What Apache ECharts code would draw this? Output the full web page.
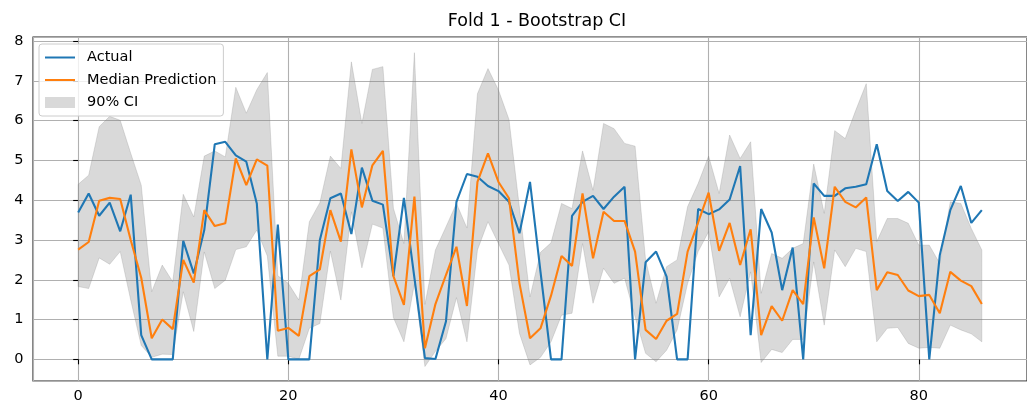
<!DOCTYPE html>
<html>
<head>
<meta charset="utf-8">
<script src="https://cdn.jsdelivr.net/npm/echarts@6/dist/echarts.min.js"></script>
<style>
  html, body { margin: 0; padding: 0; background: #fff; }
  #chart { width: 1027px; height: 405px; }
</style>
</head>
<body>
<div id="chart"></div>
<script>
// Observed target values, one per time step
const actual = [
  3.69, 4.17, 3.61, 3.94, 3.22, 4.14, 0.61, 0.00, 0.00, 0.00,
  2.98, 2.16, 3.25, 5.41, 5.47, 5.13, 4.97, 3.92, 0.00, 3.39,
  0.00, 0.00, 0.00, 3.00, 4.05, 4.17, 3.15, 4.82, 3.99, 3.89,
  2.09, 4.06, 2.05, 0.03, 0.01, 0.95, 3.96, 4.66, 4.59, 4.36,
  4.23, 3.96, 3.17, 4.46, 2.20, 0.00, 0.00, 3.61, 3.96, 4.11,
  3.78, 4.09, 4.34, 0.00, 2.44, 2.71, 2.08, 0.00, 0.00, 3.78,
  3.65, 3.77, 4.02, 4.86, 0.61, 3.78, 3.19, 1.74, 2.81, 0.00,
  4.42, 4.11, 4.11, 4.30, 4.34, 4.40, 5.41, 4.23, 3.98, 4.21,
  3.94, 0.00, 2.62, 3.75, 4.36, 3.43, 3.75
];

// Median of the bootstrap predictions
const median = [
  2.76, 2.95, 3.99, 4.06, 4.03, 3.00, 2.05, 0.53, 1.00, 0.76,
  2.50, 1.93, 3.75, 3.35, 3.42, 5.05, 4.38, 5.03, 4.87, 0.72,
  0.79, 0.59, 2.09, 2.26, 3.75, 2.96, 5.28, 3.82, 4.88, 5.24,
  2.09, 1.37, 4.09, 0.28, 1.39, 2.12, 2.83, 1.34, 4.46, 5.18,
  4.46, 4.05, 1.91, 0.53, 0.78, 1.60, 2.60, 2.35, 4.17, 2.54,
  3.71, 3.48, 3.48, 2.71, 0.74, 0.51, 0.97, 1.14, 2.71, 3.44,
  4.19, 2.73, 3.43, 2.37, 3.27, 0.61, 1.34, 0.97, 1.74, 1.39,
  3.57, 2.29, 4.34, 3.96, 3.82, 4.07, 1.74, 2.19, 2.12, 1.73,
  1.59, 1.62, 1.16, 2.20, 1.98, 1.84, 1.39
];

// 5th percentile of the bootstrap predictions
const ciLower = [
  1.83, 1.78, 2.55, 2.39, 2.71, 1.49, 0.35, 0.05, 0.13, 0.12,
  1.70, 0.70, 2.70, 1.78, 1.99, 2.76, 2.83, 3.25, 2.60, 0.08,
  0.08, 0.00, 0.78, 0.90, 2.72, 1.49, 3.71, 2.30, 3.40, 3.30,
  1.05, 0.44, 1.90, -0.18, 0.20, 0.52, 1.55, 0.44, 2.75, 3.46,
  2.91, 2.37, 0.65, -0.14, 0.05, 0.44, 1.11, 1.16, 2.91, 1.41,
  2.29, 1.91, 2.04, 1.07, 0.15, -0.06, 0.23, 0.74, 1.91, 2.71,
  3.21, 1.57, 2.04, 1.07, 2.20, -0.08, 0.25, 0.17, 0.50, 0.50,
  2.45, 0.86, 2.75, 2.33, 2.79, 2.71, 0.44, 0.78, 0.80, 0.40,
  0.28, 0.30, 0.28, 0.86, 0.74, 0.64, 0.44
];

// 95th percentile of the bootstrap predictions
const ciUpper = [
  4.40, 4.63, 5.85, 6.11, 6.01, 5.18, 4.38, 1.70, 2.37, 1.95,
  4.15, 3.58, 5.11, 5.24, 5.09, 6.84, 6.19, 6.78, 7.21, 2.10,
  1.91, 1.49, 3.46, 3.94, 5.11, 4.80, 7.48, 5.93, 7.29, 7.36,
  3.80, 2.91, 7.71, 1.38, 2.75, 3.33, 3.92, 3.30, 6.68, 7.31,
  6.77, 6.03, 3.80, 1.57, 2.69, 2.93, 3.92, 3.79, 5.24, 4.25,
  5.93, 5.80, 5.43, 5.36, 2.50, 1.41, 2.33, 2.50, 3.84, 4.42,
  5.11, 4.17, 5.64, 5.05, 5.47, 1.66, 2.66, 2.54, 2.79, 2.91,
  4.91, 3.67, 5.75, 5.55, 6.26, 6.93, 2.96, 3.54, 3.54, 3.42,
  2.87, 2.87, 2.41, 3.96, 3.92, 3.29, 2.75
];

const labels = ['Actual', 'Median Prediction', '90% CI'];
const titleText = 'Fold 1 - Bootstrap CI';

const FONT = 'DejaVu Sans';
const BAND_FILL = 'rgba(128,128,128,0.3)';
const LINE_W = 2.1;
const pairs = arr => arr.map((v, i) => [i, v]);
const bandRows = ciLower.map((lo, i) => [i, lo, ciUpper[i]]);

// Whole confidence band as one polygon: upper edge forward, lower edge back
function renderBand(params, api) {
  if (params.dataIndex !== 0) return null;
  const pts = [];
  for (let i = 0; i < ciUpper.length; i++) pts.push(api.coord([i, ciUpper[i]]));
  for (let i = ciLower.length - 1; i >= 0; i--) pts.push(api.coord([i, ciLower[i]]));
  return {
    type: 'polygon',
    shape: { points: pts },
    style: { fill: BAND_FILL, stroke: BAND_FILL, lineWidth: 0.8 }
  };
}

const chart = echarts.init(document.getElementById('chart'), null, { renderer: 'canvas' });

chart.setOption({
  animation: false,
  backgroundColor: '#ffffff',
  title: {
    text: titleText,
    left: 537,
    top: 12,
    padding: 0,
    textAlign: 'center',
    textStyle: { fontFamily: FONT, fontSize: 17.5, fontWeight: 'normal', color: '#000' }
  },
  grid: {
    left: 33, top: 37, right: -15, bottom: 24,
    show: true, borderColor: '#222', borderWidth: 1.1, backgroundColor: 'transparent'
  },
  legend: {
    orient: 'vertical',
    left: 39, top: 44,
    padding: [6, 7, 6, 5],
    itemWidth: 30, itemHeight: 11, itemGap: 7.5,
    backgroundColor: 'rgba(255,255,255,0.8)',
    borderColor: '#cccccc', borderWidth: 1, borderRadius: 3,
    textStyle: { fontFamily: FONT, fontSize: 14.5, color: '#000', padding: [0, 0, 0, 7] },
    data: [
      { name: labels[0] },
      { name: labels[1] },
      { name: labels[2], icon: 'rect', itemStyle: { color: BAND_FILL, opacity: 1 } }
    ]
  },
  xAxis: {
    type: 'value',
    min: -4.3, max: 90.3,
    minInterval: 20, maxInterval: 20,
    axisLine: { show: false },
    axisTick: { show: true, length: 5, lineStyle: { color: '#000', width: 1.1 } },
    axisLabel: {
      fontFamily: FONT, fontSize: 14.5, color: '#000', margin: 8,
      showMinLabel: false, showMaxLabel: false
    },
    splitLine: { show: true, lineStyle: { color: '#b0b0b0', width: 1.1 } }
  },
  yAxis: {
    type: 'value',
    min: -0.545, max: 8.105,
    minInterval: 1, maxInterval: 1,
    axisLine: { show: false },
    axisTick: { show: true, length: 5, lineStyle: { color: '#000', width: 1.1 } },
    axisLabel: {
      fontFamily: FONT, fontSize: 14.5, color: '#000', margin: 9.5,
      showMinLabel: false, showMaxLabel: false
    },
    splitLine: { show: true, lineStyle: { color: '#b0b0b0', width: 1.1 } }
  },
  series: [
    {
      name: labels[2],
      type: 'custom',
      data: bandRows,
      encode: { x: 0, y: [1, 2] },
      renderItem: renderBand,
      itemStyle: { color: BAND_FILL },
      clip: true,
      silent: true,
      z: 1
    },
    {
      name: labels[0],
      type: 'line',
      data: pairs(actual),
      symbol: 'none',
      // symbol is never drawn; opacity 0 keeps the legend key a plain line
      itemStyle: { color: '#1f77b4', opacity: 0 },
      lineStyle: { color: '#1f77b4', width: LINE_W, opacity: 1 },
      z: 3
    },
    {
      name: labels[1],
      type: 'line',
      data: pairs(median),
      symbol: 'none',
      itemStyle: { color: '#ff7f0e', opacity: 0 },
      lineStyle: { color: '#ff7f0e', width: LINE_W, opacity: 1 },
      z: 4
    }
  ]
});
</script>
</body>
</html>
